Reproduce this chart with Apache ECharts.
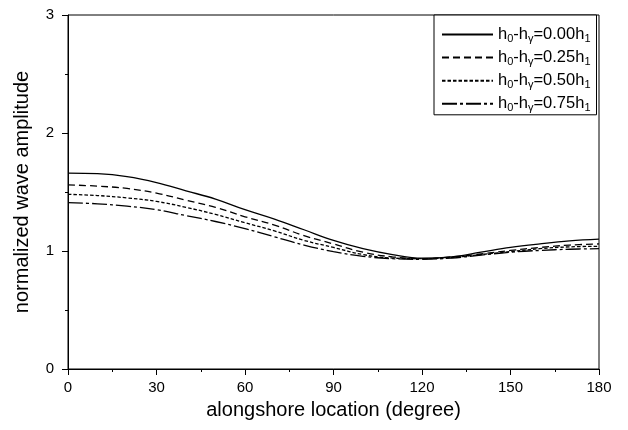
<!DOCTYPE html>
<html><head><meta charset="utf-8">
<script src="https://cdn.jsdelivr.net/npm/echarts@6/dist/echarts.min.js"></script>
<style>html,body{margin:0;padding:0;background:#fff}#c{width:628px;height:430px}</style>
</head><body><div id="c"></div>
<script>
const xs = [0,10,20,30,40,50,60,70,80,90,100,110,120,130,140,150,160,170,180];
const s000 = [1.66,1.655,1.63,1.58,1.51,1.44,1.35,1.27,1.18,1.09,1.02,0.97,0.94,0.95,0.99,1.03,1.06,1.085,1.10];
const s025 = [1.56,1.55,1.53,1.49,1.43,1.37,1.29,1.22,1.13,1.06,0.99,0.95,0.935,0.95,0.975,1.005,1.03,1.05,1.06];
const s050 = [1.48,1.47,1.45,1.42,1.37,1.31,1.24,1.17,1.09,1.03,0.97,0.94,0.935,0.945,0.97,0.995,1.02,1.035,1.04];
const s075 = [1.41,1.40,1.38,1.35,1.30,1.25,1.19,1.12,1.05,0.995,0.955,0.935,0.93,0.94,0.965,0.99,1.005,1.015,1.02];
const names = ['0.00','0.25','0.50','0.75'];
const seriesData = [s000,s025,s050,s075];
const dashes = ['solid',[7,4],[3.5,2],[15,3,3,3]];
const FONT = '"Liberation Sans", Arial, sans-serif';

const chart = echarts.init(document.getElementById('c'), null, {renderer:'canvas'});
const series = seriesData.map((d,i)=>({
  name: names[i],
  type: 'line',
  data: xs.map((x,j)=>[x,d[j]]),
  smooth: 0.4,
  symbol: 'none',
  lineStyle: {color:'#000', width:1.3, type: dashes[i]},
  itemStyle: {color:'#000'}
}));
chart.setOption({
  animation:false,
  backgroundColor:'#fff',
  grid:{left:68,right:29,top:15,bottom:61,show:true,borderColor:'#000',borderWidth:1},
  legend:{
    show:true,
    orient:'vertical', left:434, top:15,
    padding:[11,6,1,7], itemGap:4.6,
    itemWidth:51, itemHeight:14,
    borderColor:'#000', borderWidth:1, backgroundColor:'#fff',
    itemStyle:{opacity:0, borderWidth:0},
    data: names,
    formatter: function(n){ return '{t|h}{s|0}{t|-h}{s|γ}{t|=' + n + 'h}{s|1}'; },
    textStyle:{
      fontFamily:FONT, fontSize:16.5, color:'#000',
      rich:{
        t:{fontFamily:FONT,fontSize:16.5,color:'#000',lineHeight:20,verticalAlign:'middle'},
        s:{fontFamily:FONT,fontSize:11,color:'#000',lineHeight:10,verticalAlign:'bottom'}
      }
    }
  },
  xAxis:{
    type:'value', min:0, max:180, interval:30,
    name:'alongshore location (degree)', nameLocation:'middle', nameGap:31,
    nameTextStyle:{fontFamily:FONT,fontSize:20,color:'#000'},
    axisLine:{show:true,lineStyle:{color:'#000',width:1}},
    axisTick:{show:true,inside:false,length:6,lineStyle:{color:'#000'}},
    minorTick:{show:true,splitNumber:2,length:3,lineStyle:{color:'#000'}},
    axisLabel:{fontFamily:FONT,fontSize:15,color:'#000',margin:11},
    splitLine:{show:false}
  },
  yAxis:{
    type:'value', min:0, max:3, interval:1,
    name:'normalized wave amplitude', nameLocation:'middle', nameGap:36,
    nameTextStyle:{fontFamily:FONT,fontSize:20,color:'#000'},
    axisLine:{show:true,lineStyle:{color:'#000',width:1}},
    axisTick:{show:true,inside:false,length:6,lineStyle:{color:'#000'}},
    minorTick:{show:true,splitNumber:2,length:3,lineStyle:{color:'#000'}},
    axisLabel:{fontFamily:FONT,fontSize:15,color:'#000',margin:14},
    splitLine:{show:false}
  },
  series: series
});
</script></body></html>
